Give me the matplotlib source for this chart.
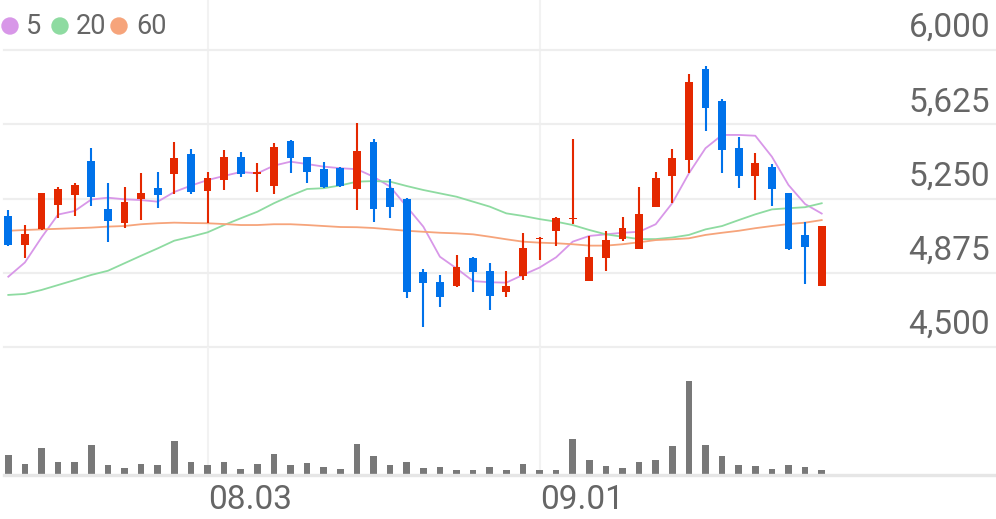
import matplotlib

matplotlib.use("Agg")
import matplotlib.pyplot as plt
import numpy as np
from matplotlib.patches import Ellipse

plt.rcParams["font.family"] = ["Roboto", "DejaVu Sans"]

# daily candles (price in KRW)
opens = [5162, 5015, 5094, 5217, 5268, 5441, 5195, 5128, 5246, 5305,
         5374, 5473, 5288, 5343, 5461, 5374, 5313, 5542, 5458, 5397,
         5403, 5298, 5534, 5305, 5246, 4880, 4830, 4808, 4948, 4884,
         4779, 4860, 5045, 5087, 5145, 4833, 4948, 5044, 4995, 5206,
         5364, 5444, 5903, 5744, 5504, 5364, 5411, 5276, 5066, 4808]
highs = [5190, 5118, 5280, 5310, 5327, 5507, 5327, 5310, 5377, 5385,
         5537, 5498, 5385, 5495, 5486, 5428, 5529, 5545, 5461, 5436,
         5408, 5630, 5549, 5347, 5251, 4892, 4864, 4965, 4953, 4926,
         4885, 5077, 5057, 5155, 5549, 5061, 5087, 5158, 5310, 5385,
         5498, 5879, 5919, 5751, 5559, 5478, 5424, 5280, 5133, 5113]
lows = [5010, 4951, 5090, 5153, 5160, 5212, 5030, 5100, 5141, 5200,
        5273, 5273, 5128, 5293, 5357, 5284, 5273, 5377, 5327, 5302,
        5308, 5192, 5131, 5150, 4746, 4600, 4700, 4805, 4779, 4687,
        4754, 4838, 4939, 5010, 5121, 4833, 4885, 5037, 4995, 5206,
        5229, 5377, 5591, 5377, 5302, 5242, 5212, 4990, 4818, 4808]
closes = [5014, 5072, 5276, 5296, 5317, 5256, 5138, 5234, 5276, 5268,
          5453, 5284, 5352, 5461, 5372, 5380, 5512, 5453, 5384, 5310,
          5313, 5491, 5197, 5209, 4779, 4822, 4751, 4906, 4877, 4758,
          4810, 5001, 5052, 5153, 5153, 4953, 5040, 5103, 5172, 5352,
          5453, 5837, 5706, 5495, 5364, 5431, 5298, 4993, 5007, 5113]
volumes = [200, 113, 267, 133, 127, 297, 100, 67, 107, 100,
           340, 133, 100, 127, 60, 107, 210, 100, 117, 80,
           57, 313, 193, 100, 130, 70, 83, 50, 50, 83,
           50, 110, 50, 50, 360, 147, 90, 73, 127, 150,
           293, 937, 300, 187, 103, 90, 63, 103, 77, 50]

# moving averages as drawn on the chart
ma5 = [4855, 4927, 5053, 5169, 5187, 5245, 5254, 5246, 5242, 5234,
       5283, 5315, 5343, 5364, 5384, 5377, 5416, 5436, 5424, 5411,
       5403, 5398, 5360, 5310, 5209, 5108, 4956, 4897, 4833, 4827,
       4825, 4864, 4901, 4953, 5032, 5061, 5069, 5077, 5082, 5120,
       5227, 5377, 5504, 5571, 5571, 5567, 5461, 5318, 5222, 5174]
ma20 = [4763, 4768, 4788, 4813, 4838, 4864, 4885, 4923, 4961, 4998,
        5037, 5057, 5079, 5116, 5150, 5183, 5226, 5264, 5298, 5302,
        5316, 5335, 5338, 5335, 5313, 5293, 5276, 5259, 5234, 5209,
        5175, 5162, 5146, 5133, 5116, 5091, 5069, 5057, 5045, 5045,
        5053, 5066, 5094, 5111, 5141, 5170, 5195, 5201, 5206, 5226]
ma60 = [5087, 5091, 5094, 5097, 5100, 5103, 5108, 5111, 5120, 5125,
        5128, 5126, 5125, 5121, 5116, 5116, 5120, 5120, 5116, 5111,
        5106, 5105, 5101, 5094, 5087, 5082, 5077, 5074, 5069, 5057,
        5044, 5032, 5027, 5024, 5019, 5012, 5012, 5019, 5029, 5040,
        5044, 5049, 5066, 5077, 5087, 5100, 5111, 5121, 5128, 5141]

ma_labels = ["5", "20", "60"]
price_ticks = [4500, 4875, 5250, 5625, 6000]
date_ticks = [12, 32]
date_labels = ["08.03", "09.01"]

UP = "#e42800"
DOWN = "#0072ea"
MA_COLORS = ["#d897e8", "#8edba1", "#f6a47b"]
GRID = "#eeeeee"
TEXT = "#666666"

W, H = 996, 519
fig = plt.figure(figsize=(W / 100, H / 100), dpi=100)
ax = fig.add_axes([4 / W, 1 - 347 / H, 992 / W, 347 / H])
vax = fig.add_axes([4 / W, 1 - 475 / H, 992 / W, 128 / H])

xs = np.arange(len(closes))
xlim = (-(8.3 - 4) / 16.6, (W - 8.3) / 16.6)
for a in (ax, vax):
    a.set_xlim(*xlim)
    a.axis("off")
    for t in date_ticks:
        a.axvline(t, color="#f2f2f2", lw=1.5, zorder=0)

ax.set_ylim(4500, 6000 + 50 * 1500 / 297)
for v in price_ticks:
    ax.axhline(v, color=GRID, lw=1.6, zorder=0, clip_on=False)
    ax.annotate(f"{v:,}", xy=(1, v), xycoords=("axes fraction", "data"),
                xytext=(-6, 22), textcoords="offset pixels",
                ha="right", va="center", fontsize=24, color=TEXT)

# moving averages under the candles
for vals, col in zip([ma5, ma20, ma60], MA_COLORS):
    ax.plot(xs, vals, color=col, lw=1.3, zorder=2)

o = np.array(opens)
c = np.array(closes)
colors = [UP if cc >= oo else DOWN for oo, cc in zip(o, c)]
ax.vlines(xs, lows, highs, colors=colors, lw=1.5, zorder=3)
body = np.maximum(np.abs(c - o), 8)
ax.bar(xs, body, bottom=np.minimum(o, c), width=0.47, color=colors, zorder=4)

# volume panel
vax.set_ylim(0, max(volumes) * 128 / 93.7)
vax.bar(xs, volumes, width=0.4, color="#787878", zorder=2)
vax.axhline(0, color="#e6e6e6", lw=2.4, zorder=3, clip_on=False)
for t, lab in zip(date_ticks, date_labels):
    vax.annotate(lab, xy=(t, 0), xycoords=("data", "axes fraction"),
                 xytext=(1, -25), textcoords="offset pixels",
                 ha="left", va="center", fontsize=24, color=TEXT)

# legend row at the top-left
dot_x = [10, 60, 119]
txt_x = [26, 76, 136]
for dx, tx, lab, col in zip(dot_x, txt_x, ma_labels, MA_COLORS):
    fig.add_artist(Ellipse((dx / W, 1 - 26 / H), 16 / W, 16 / H, color=col,
                           transform=fig.transFigure))
    fig.text(tx / W, 1 - 26 / H, lab, ha="left", va="center",
             fontsize=19.5, color=TEXT)

fig.savefig("out.png", dpi=100)
